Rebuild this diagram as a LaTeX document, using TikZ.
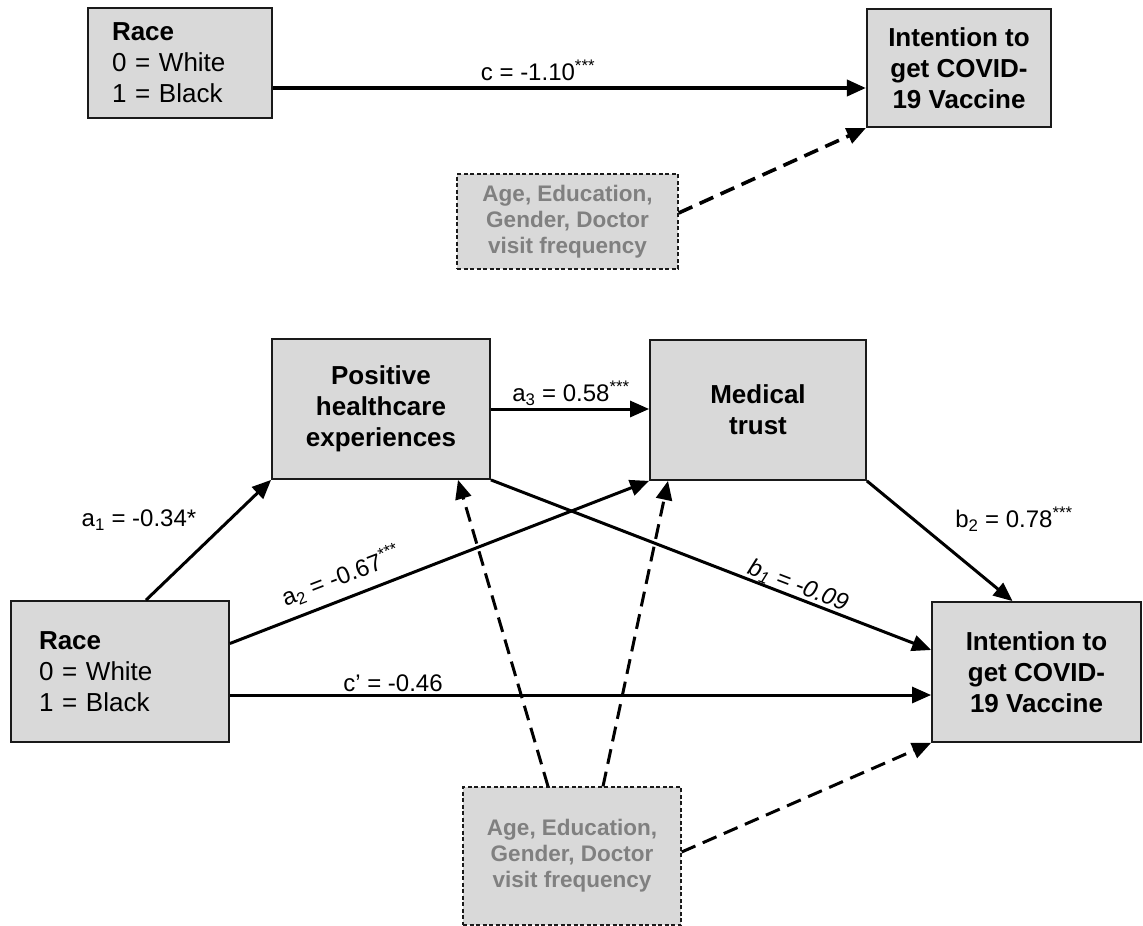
\documentclass[tikz,border=0pt]{standalone}
\usepackage{fontspec}
\setmainfont{Liberation Sans}
\usetikzlibrary{arrows.meta}
\definecolor{boxfill}{HTML}{D9D9D9}
\definecolor{covtext}{HTML}{808080}
\definecolor{edgecol}{HTML}{1A1A1A}
\begin{document}
\begin{tikzpicture}[x=1pt,y=-1pt,
  box/.style={draw=edgecol, line width=1.8pt, fill=boxfill, inner sep=0pt, align=center,
    font=\fontsize{26}{31}\selectfont\bfseries},
  racebox/.style={box, align=left, font=\fontsize{26}{31}\selectfont},
  covbox/.style={draw=edgecol, line width=1.3pt, dash pattern=on 4pt off 2.5pt, fill=boxfill,
    inner sep=0pt, align=center, text=covtext, font=\fontsize{22.5}{26}\selectfont\bfseries},
  arr/.style={line width=3pt, draw=black, -{Triangle[length=19pt,width=16pt]}},
  darr/.style={arr, dash pattern=on 15pt off 8pt},
  lab/.style={inner sep=0pt, font=\fontsize{24}{28}\selectfont}
]
\useasboundingbox (0,0) rectangle (1143,926);

% ---------- top panel ----------
\node[racebox, minimum width=184pt, minimum height=110pt, text width=136pt, line width=2.2pt] (race1) at (180,63)
  {\textbf{Race}\\0 = White\\1 = Black};
\node[box, minimum width=184pt, minimum height=118pt, line width=2.2pt] (int1) at (959,68)
  {Intention to\\get COVID-\\19 Vaccine};
\node[covbox, minimum width=221pt, minimum height=95pt] (cov1) at (567.5,221.5)
  {Age, Education,\\Gender, Doctor\\visit frequency};

\draw[arr, line width=3.8pt] ([yshift=-25pt]race1.east) -- ([yshift=-25pt]race1.east -| int1.west);
\node[lab] (lc) at (538,70) {c = -1.10\textsuperscript{***}};
\draw[darr, line width=3.6pt] ([yshift=8.5pt]cov1.east) -- (int1.south west);

% ---------- bottom panel ----------
\node[box, minimum width=218pt, minimum height=140pt] (pos) at (381,409)
  {Positive\\healthcare\\experiences};
\node[box, minimum width=216pt, minimum height=140pt] (med) at (758,410)
  {Medical\\trust};
\node[racebox, minimum width=218pt, minimum height=141pt, text width=162pt] (race2) at (120,671.5)
  {\textbf{Race}\\0 = White\\1 = Black};
\node[box, minimum width=209pt, minimum height=140pt] (int2) at (1036.5,672)
  {Intention to\\get COVID-\\19 Vaccine};
\node[covbox, minimum width=218pt, minimum height=138pt] (cov2) at (572,856)
  {Age, Education,\\Gender, Doctor\\visit frequency};

% paths
\draw[arr] (pos.east) -- (pos.east -| med.west);
\node[lab] (la3) at (571,393) {a\textsubscript{3} = 0.58\textsuperscript{***}};

\draw[arr] ([xshift=26pt]race2.north) -- (pos.south west);
\node[lab] (la1) at (139,520) {a\textsubscript{1} = -0.34*};

\draw[arr] ([yshift=28pt]race2.east) -- (med.south west);
\node[lab, rotate=21] (la2) at (341,576) {a\textsubscript{2} = -0.67\textsuperscript{***}};

\draw[arr] (pos.south east) -- ([yshift=22pt]int2.west);
\node[lab, rotate=-21, font=\fontsize{24}{28}\selectfont\itshape] (lb1) at (798,586) {b\textsubscript{1} = -0.09};

\draw[arr] (med.south east) -- ([xshift=-24pt]int2.north);
\node[lab] (lb2) at (1014,519) {b\textsubscript{2} = 0.78\textsuperscript{***}};

\draw[arr] ([yshift=-23.5pt]race2.east) -- ([yshift=-23.5pt]race2.east -| int2.west);
\node[lab] (lcp) at (393,683) {c' = -0.46};

\draw[darr] ([xshift=-24pt]cov2.north) -- ([xshift=77pt]pos.south);
\draw[darr] ([xshift=31pt]cov2.north) -- ([xshift=-90pt]med.south);
\draw[darr] ([yshift=4pt]cov2.east) -- (int2.south west);
\end{tikzpicture}
\end{document}
